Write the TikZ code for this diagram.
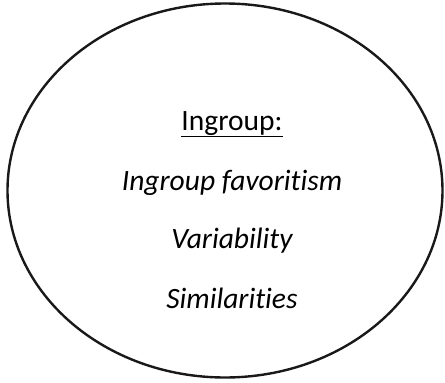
\documentclass[tikz,border=0pt]{standalone}
\usepackage{fontspec}
\setmainfont[Ligatures={NoCommon}]{Carlito}
\usetikzlibrary{shapes.geometric}
\begin{document}
\begin{tikzpicture}[x=1pt,y=-1pt,
  lbl/.style={anchor=base,inner sep=0pt,font=\fontsize{29.5}{34}\selectfont},
  ring/.style={draw=black!90,line width=2.4pt}]
\useasboundingbox (0,0) rectangle (445,383);
\node[ring,ellipse,minimum width=435pt,minimum height=374pt,inner sep=0pt] (e) at (225,190.5) {};
\node[lbl] (h) at (232,130) {\underline{Ingroup:}};
\node[lbl] (a) at (232,190) {\itshape Ingroup favoritism};
\node[lbl] (b) at (232,248) {\itshape Variability};
\node[lbl] (c) at (232,308) {\itshape Similarities};
\end{tikzpicture}
\end{document}
